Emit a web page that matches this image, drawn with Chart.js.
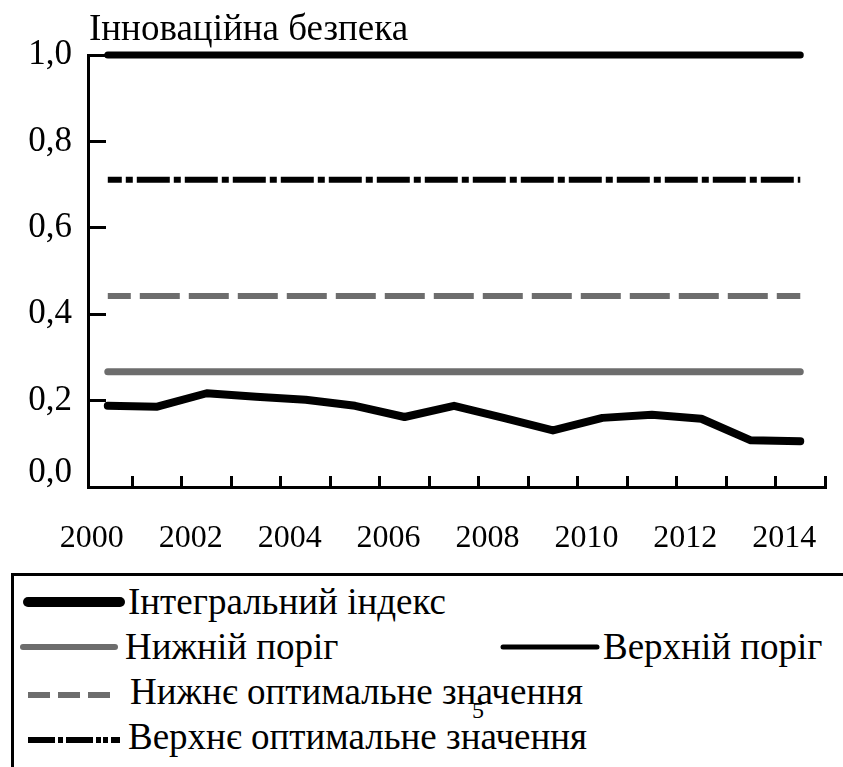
<!DOCTYPE html>
<html>
<head>
<meta charset="utf-8">
<script src="https://cdn.jsdelivr.net/npm/chart.js@4"></script>
<style>
  html, body { margin: 0; padding: 0; background: #fff; overflow: hidden; }
  #wrap { position: relative; width: 843px; height: 767px; font-family: "Liberation Serif", "Times New Roman", "DejaVu Serif", serif; color: #000; }
  #chart { position: absolute; left: 0; top: 0; }
  #title { position: absolute; left: 89px; top: 9px; font-size: 37px; line-height: 38px; white-space: nowrap; }
  #legendBox { position: absolute; left: 11px; top: 573px; width: 900px; height: 300px; border: 3px solid #000; }
  .lg-text { position: absolute; font-size: 37px; line-height: 38px; white-space: nowrap; }
  .lg-line { position: absolute; }
  #pageNo { position: absolute; left: 472px; top: 698px; font-size: 24px; line-height: 24px; }
</style>
</head>
<body>
<div id="wrap">
  <canvas id="chart" width="843" height="567"></canvas>
  <div id="title">Інноваційна безпека</div>
  <div id="legendBox"></div>
  <div id="legend"></div>
  <div id="pageNo">5</div>
</div>
<script>
var years = [2000, 2001, 2002, 2003, 2004, 2005, 2006, 2007, 2008, 2009, 2010, 2011, 2012, 2013, 2014];
var labelYears = [2000, 2002, 2004, 2006, 2008, 2010, 2012, 2014];
var integralIndex = [0.188, 0.186, 0.217, 0.209, 0.202, 0.188, 0.162, 0.188, 0.160, 0.131, 0.160, 0.167, 0.158, 0.108, 0.106];
var lowerThreshold = 0.267;
var upperThreshold = 1.0;
var lowerOptimal = 0.442;
var upperOptimal = 0.711;
var yTicks = [0, 0.2, 0.4, 0.6, 0.8, 1.0];

var names = [
    "Інтегральний індекс",
    "Нижній поріг",
    "Верхній поріг",
    "Нижнє оптимальне значення",
    "Верхнє оптимальне значення"
];

var gray = "#6d6d6d";
var serif = "'Liberation Serif', 'Times New Roman', 'DejaVu Serif', serif";
var xMin = 1999.6, xMax = 2014.5;

function flat(v) {
    return [{x: years[0], y: v}, {x: years[years.length - 1], y: v}];
}

function isHalfYear(v) {
    return Math.abs((v % 1) - 0.5) < 1e-6;
}

var config = {
    type: 'line',
    data: {
        datasets: [{
            label: names[0],
            data: years.map(function (yr, i) { return {x: yr, y: integralIndex[i]}; }),
            borderColor: "#000",
            borderWidth: 8,
            borderJoinStyle: 'round',
            borderCapStyle: 'round',
            order: 0
        }, {
            label: names[1],
            data: flat(lowerThreshold),
            borderColor: gray,
            borderWidth: 7,
            borderCapStyle: 'round',
            order: 1
        }, {
            label: names[2],
            data: flat(upperThreshold),
            borderColor: "#000",
            borderWidth: 7,
            borderCapStyle: 'round',
            order: 1
        }, {
            label: names[3],
            data: flat(lowerOptimal),
            borderColor: gray,
            borderWidth: 6,
            borderDash: [40, 9],
            borderDashOffset: 17,
            order: 1
        }, {
            label: names[4],
            data: flat(upperOptimal),
            borderColor: "#000",
            borderWidth: 6,
            borderDash: [33, 4, 7, 4],
            borderDashOffset: 19,
            order: 1
        }]
    },
    options: {
        responsive: false,
        animation: false,
        layout: {
            padding: {left: 29, top: 51, right: 18, bottom: 13}
        },
        elements: {
            point: {radius: 0, hoverRadius: 0},
            line: {tension: 0}
        },
        datasets: {
            line: {clip: false}
        },
        plugins: {
            legend: {display: false},
            title: {display: false},
            tooltip: {enabled: false}
        },
        scales: {
            x: {
                type: 'linear',
                min: xMin,
                max: xMax,
                afterBuildTicks: function (axis) {
                    var t = [];
                    years.forEach(function (yr) {
                        t.push({value: yr});
                        t.push({value: yr + 0.5});
                    });
                    // blank tick at the axis start, kept last so the big label padding
                    // is not reserved on the right side
                    t.push({value: xMin});
                    axis.ticks = t;
                },
                afterFit: function (axis) {
                    axis.height = 67;
                },
                border: {display: true, color: "#000", width: 3},
                grid: {
                    drawOnChartArea: false,
                    drawTicks: true,
                    tickLength: -11,
                    tickWidth: 3,
                    tickColor: function (ctx) {
                        return ctx.tick && isHalfYear(ctx.tick.value) ? "#000" : "rgba(0,0,0,0)";
                    }
                },
                ticks: {
                    autoSkip: false,
                    maxRotation: 0,
                    minRotation: 0,
                    padding: 43,
                    labelOffset: -16,
                    color: "#000",
                    font: {family: serif, size: 32},
                    callback: function (v) {
                        return labelYears.indexOf(v) >= 0 ? String(v) : '';
                    }
                }
            },
            y: {
                type: 'linear',
                min: 0,
                max: 1,
                afterBuildTicks: function (axis) {
                    axis.ticks = yTicks.map(function (v) { return {value: v}; });
                },
                afterFit: function (axis) {
                    axis.width = 59;
                },
                border: {display: true, color: "#000", width: 3},
                grid: {
                    drawOnChartArea: false,
                    drawTicks: true,
                    tickLength: -18,
                    tickWidth: 3,
                    tickColor: "#000"
                },
                ticks: {
                    padding: 34,
                    color: "#000",
                    font: function (ctx) {
                        // the zero label sits a little above the x axis
                        if (ctx.tick && ctx.tick.value === 0) {
                            return {family: serif, size: 35, lineHeight: 0.8};
                        }
                        return {family: serif, size: 35};
                    },
                    callback: function (v) {
                        var s = v.toFixed(1).replace('.', ',');
                        return v === 0 ? [s, ''] : s;
                    }
                }
            }
        }
    }
};

// legend positions: sample line x1, x2, centre y, text x, text baseline
var legendPos = [
    {x1: 28, x2: 120, y: 602, tx: 128, base: 615, dash: null, w: 10},
    {x1: 23, x2: 115, y: 647, tx: 125, base: 660, dash: null, w: 6},
    {x1: 503, x2: 597, y: 647, tx: 603, base: 660, dash: null, w: 5},
    {x1: 28, x2: 110, y: 695, tx: 130, base: 705, dash: "22 8", w: 6},
    {x1: 28, x2: 120, y: 740, tx: 128, base: 750, dash: "27 3 5 3 27 3 5 2 5 3", w: 6}
];

function buildLegend(chart) {
    var box = document.getElementById("legend");
    var svgNS = "http://www.w3.org/2000/svg";
    chart.data.datasets.forEach(function (ds, i) {
        var p = legendPos[i];
        var svg = document.createElementNS(svgNS, "svg");
        var len = p.x2 - p.x1;
        svg.setAttribute("width", len + 10);
        svg.setAttribute("height", 20);
        svg.setAttribute("class", "lg-line");
        svg.style.left = (p.x1 - 5) + "px";
        svg.style.top = (p.y - 10) + "px";
        var ln = document.createElementNS(svgNS, "line");
        ln.setAttribute("x1", 5);
        ln.setAttribute("x2", 5 + len);
        ln.setAttribute("y1", 10);
        ln.setAttribute("y2", 10);
        ln.setAttribute("stroke", ds.borderColor);
        ln.setAttribute("stroke-width", p.w);
        ln.setAttribute("stroke-linecap", p.dash ? "butt" : "round");
        if (p.dash) ln.setAttribute("stroke-dasharray", p.dash);
        svg.appendChild(ln);
        box.appendChild(svg);

        var t = document.createElement("div");
        t.className = "lg-text";
        t.textContent = ds.label;
        t.style.left = p.tx + "px";
        t.style.top = (p.base - 32) + "px";
        box.appendChild(t);
    });
}

window.onload = function () {
    var ctx = document.getElementById("chart").getContext("2d");
    window.indexChart = new Chart(ctx, config);
    buildLegend(window.indexChart);
};
</script>
</body>
</html>
